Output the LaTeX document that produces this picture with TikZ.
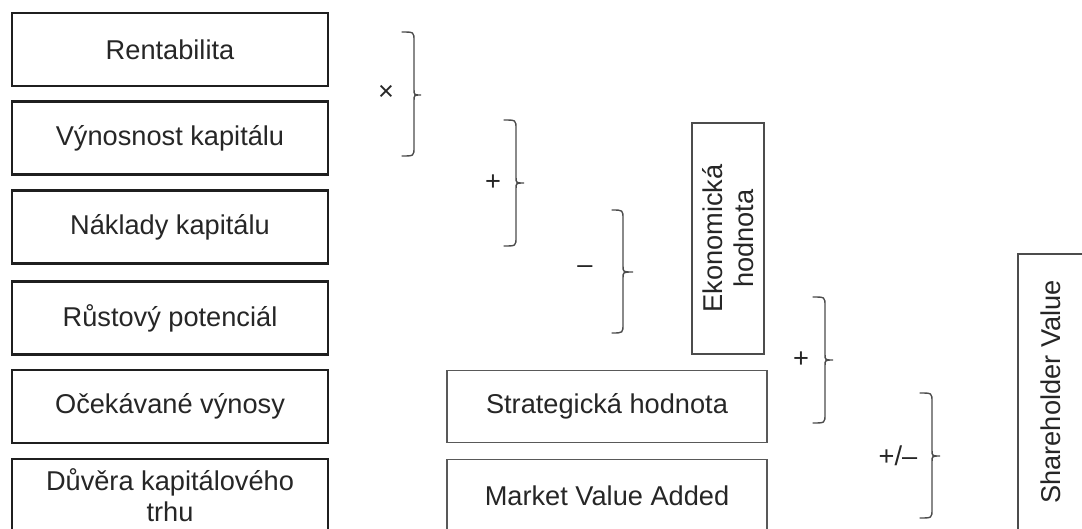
\documentclass[tikz,border=0pt]{standalone}
\usepackage{fontspec}
\setmainfont{Liberation Sans}
\begin{document}
\begin{tikzpicture}[x=1pt,y=-1pt,
  lbl/.style={font=\fontsize{27.2}{31}\selectfont, text=black!85, align=center, inner sep=0pt},
  leftbox/.style={lbl, draw=black!88, line width=2.6pt, minimum width=316pt, minimum height=73pt},
  midbox/.style={lbl, draw=black!65, line width=1.8pt, minimum width=320pt, minimum height=72pt},
  vbox/.style={lbl, draw=black!70, line width=1.8pt, rotate=90},
  brc/.style={draw=black!70, line width=1.4pt, line cap=round},
  op/.style={font=\fontsize{27.2}{31}\selectfont, text=black!85, inner sep=0pt}
]
\useasboundingbox (0,0) rectangle (1082,528);
\clip (0,0) rectangle (1082,528);
\fill[white] (0,0) rectangle (1082,528);

% left column
\node[leftbox] (ren) at (170,49.5) {Rentabilita};
\node[leftbox] (vyn) at (170,138) {Výnosnost kapitálu};
\node[leftbox] (nak) at (170,227) {Náklady kapitálu};
\node[leftbox] (rus) at (170,318) {Růstový potenciál};
\node[leftbox] (oce) at (170,406.5) {Očekávané výnosy};
\node[leftbox] (duv) at (170,495.5) {Důvěra kapitálového\\trhu};

% middle boxes
\node[midbox] (str) at (607,406.5) {Strategická hodnota};
\node[midbox] (mva) at (607,495.5) {Market Value Added};
\node[vbox, minimum width=231pt, minimum height=72pt] (eko) at (728,238.5) {Ekonomická\\hodnota};
\node[vbox, minimum width=276pt, minimum height=66pt] (sv) at (1051,392) {Shareholder Value};

% braces: L, V, T, Y1, Y2, M
\newcommand{\mybrace}[6]{%
  \draw[brc] (#1,#4) .. controls (#2,#4) .. (#2,#4+9) -- (#2,#6-6)
    .. controls (#2,#6) .. (#3,#6) .. controls (#2,#6) .. (#2,#6+6)
    -- (#2,#5-9) .. controls (#2,#5) .. (#1,#5);}
\mybrace{402}{414}{421}{32}{156}{95}
\mybrace{504}{516}{524}{120}{246}{183}
\mybrace{612}{623}{633}{210}{333}{272}
\mybrace{813}{825}{833}{297}{423}{360}
\mybrace{920}{932}{940}{393}{518}{456}

% operators
\node[op] (opx) at (386,93) {×};
\node[op] (opp1) at (493,183) {+};
\node[op] (opm) at (585,270) {–};
\node[op] (opp2) at (801,360) {+};
\node[op] (oppm) at (898,456) {+/–};
\end{tikzpicture}
\end{document}
